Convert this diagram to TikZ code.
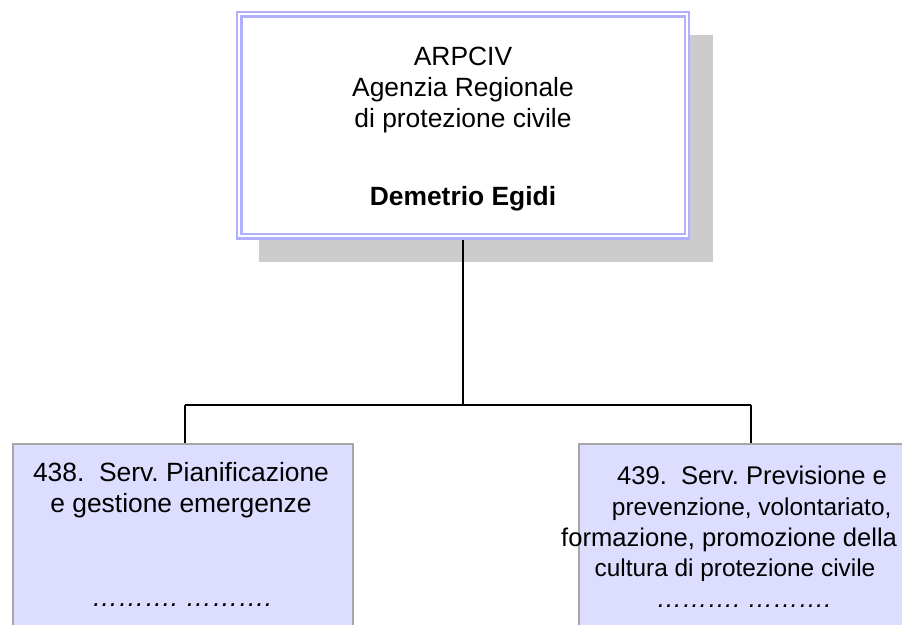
\documentclass[tikz,border=0pt]{standalone}
\usepackage{fontspec}
\setmainfont{Liberation Sans}
\usetikzlibrary{backgrounds}
\definecolor{lav}{HTML}{B0B0FF}
\definecolor{shadowgray}{HTML}{CCCCCC}
\definecolor{boxfill}{HTML}{DDDDFF}
\definecolor{boxline}{HTML}{A6A6A6}
\frenchspacing
\begin{document}
\begin{tikzpicture}[x=1pt,y=-1pt,
  conn/.style={draw=black,line width=2pt},
  topbox/.style={draw=lav,double=white,line width=2.3pt,double distance=2.1pt,fill=white,inner sep=0pt,minimum width=447.5pt,minimum height=222pt},
  shadowbox/.style={fill=shadowgray,inner sep=0pt,minimum width=454pt,minimum height=227pt,anchor=north west},
  subbox/.style={draw=boxline,line width=2pt,fill=boxfill,inner sep=0pt,minimum width=340pt,minimum height=300pt,anchor=north west},
  txt/.style={anchor=base,inner sep=0pt,font=\fontsize{26.4}{31}\selectfont},
  txtr/.style={anchor=base,inner sep=0pt,font=\fontsize{25.6}{31}\selectfont},
  txtn/.style={anchor=base,inner sep=0pt,font=\fontsize{24.4}{31}\selectfont}]
\useasboundingbox (0,0) rectangle (902,624);
\clip (0,0) rectangle (902,624);
% boxes
\node[topbox] (top) at (463.1,125.4) {};
\node[subbox] (left) at (12,443) {};
\node[subbox] (right) at (578,443) {};
% junction
\coordinate (jl) at (185,404.5);
\coordinate (jr) at (750.7,404.5);
\begin{scope}[on background layer]
\fill[white] (0,0) rectangle (902,624);
\node[shadowbox] (shadow) at (259,35) {};
\draw[conn] (top.south) -- (top.south |- jl);
\draw[conn] (jl) -- (jr);
\draw[conn] (jl) -- (jl |- left.north);
\draw[conn] (jr) -- (jr |- right.north);
\end{scope}
% top texts
\node[txt] (t1) at (463,65) {ARPCIV};
\node[txt] (t2) at (463,96.3) {Agenzia Regionale};
\node[txt] (t3) at (463,127.3) {di protezione civile};
\node[txt,font=\fontsize{26.4}{31}\selectfont\bfseries] (t4) at (463,205) {Demetrio Egidi};
% left texts
\node[txt] (l1) at (181,481) {438.\ \ Serv. Pianificazione};
\node[txt] (l2) at (181,512) {e gestione emergenze};
\node[txt,font=\fontsize{26.4}{31}\selectfont\itshape] (l3) at (182,606) {………. ……….};
% right texts
\node[txtr] (r1) at (752,484) {439.\ \ Serv. Previsione e};
\node[txtn] (r2) at (751.7,515) {prevenzione, volontariato,};
\node[txtr,anchor=base west] (r3) at (561,546) {formazione, promozione della};
\node[txtn] (r4) at (735,576) {cultura di protezione civile};
\node[txtr,font=\fontsize{25.6}{31}\selectfont\itshape] (r5) at (744,607) {………. ……….};
\end{tikzpicture}
\end{document}
